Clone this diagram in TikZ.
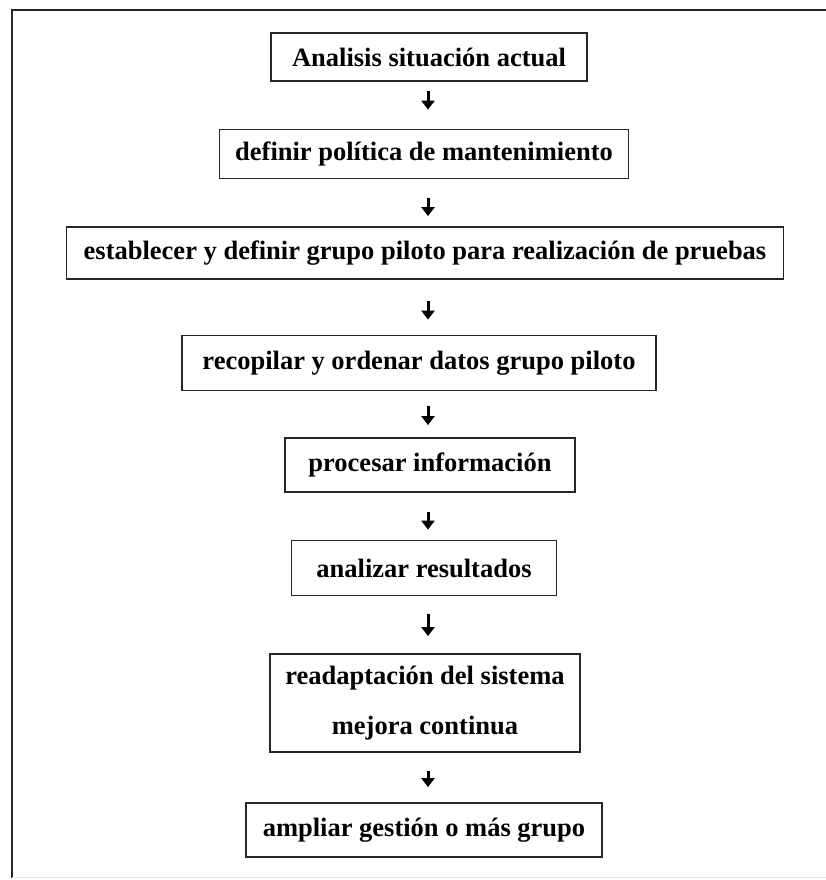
\documentclass[tikz,border=0pt]{standalone}
\usepackage{fontspec}
\setmainfont{Liberation Serif}
\usetikzlibrary{arrows.meta}
\begin{document}
\begin{tikzpicture}[x=1pt,y=-1pt,
  stepbox/.style={draw=black!85, line width=1.8pt, inner sep=0pt,
    font=\fontsize{26.5}{30}\selectfont\bfseries, align=center},
  flowarrow/.style={line width=3pt, -{Triangle[length=9pt,width=13pt]}}]
  \useasboundingbox (0,0) rectangle (826,880);
  % page frame
  \draw[line width=2.2pt, black!85] (12,878) -- (12,10) -- (826,10);
  \draw[line width=0.8pt, black!12] (12,877) -- (826,877);
  % process steps
  \node[stepbox, minimum width=316, minimum height=48] (b1) at (429,57) {Analisis situación actual};
  \node[stepbox, minimum width=409, minimum height=49] (b2) at (424,154) {definir política de mantenimiento};
  \node[stepbox, minimum width=717, minimum height=52] (b3) at (425,253) {establecer y definir grupo piloto para realización de pruebas};
  \node[stepbox, minimum width=474, minimum height=55] (b4) at (419,363) {recopilar y ordenar datos grupo piloto};
  \node[stepbox, minimum width=290, minimum height=54] (b5) at (430,465) {procesar información};
  \node[stepbox, minimum width=265, minimum height=55] (b6) at (424,568) {analizar resultados};
  \node[stepbox, minimum width=310, minimum height=98, font=\fontsize{26.5}{50}\selectfont\bfseries] (b7) at (425,703) {readaptación del sistema\\mejora continua};
  \node[stepbox, minimum width=356, minimum height=54] (b8) at (424,830) {ampliar gestión o más grupo};
  % arrows on a common axis
  \coordinate (axis) at (428,0);
  \draw[flowarrow, shorten <=9pt, shorten >=19pt] (b1.south -| axis) -- (b2.north -| axis);
  \draw[flowarrow, shorten <=19pt, shorten >=10pt] (b2.south -| axis) -- (b3.north -| axis);
  \draw[flowarrow, shorten <=21pt, shorten >=15pt] (b3.south -| axis) -- (b4.north -| axis);
  \draw[flowarrow, shorten <=15pt, shorten >=12pt] (b4.south -| axis) -- (b5.north -| axis);
  \draw[flowarrow, shorten <=19pt, shorten >=10pt] (b5.south -| axis) -- (b6.north -| axis);
  \draw[flowarrow, shorten <=18pt, shorten >=17pt] (b6.south -| axis) -- (b7.north -| axis);
  \draw[flowarrow, shorten <=18pt, shorten >=15pt] (b7.south -| axis) -- (b8.north -| axis);
\end{tikzpicture}
\end{document}
